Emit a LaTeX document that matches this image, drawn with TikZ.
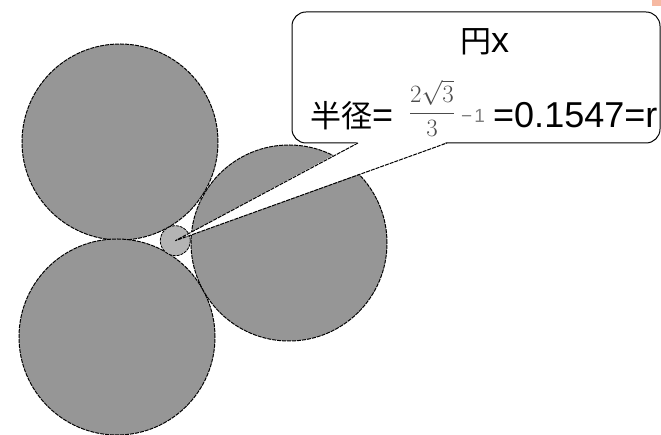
\documentclass[tikz,border=0pt]{standalone}
\usepackage{fontspec}
\setmainfont{Liberation Sans}
\newfontfamily\cjk{Noto Sans CJK JP}
\newcommand{\hanzi}{\fontsize{31}{36}\selectfont\cjk}
\definecolor{discgrey}{HTML}{969696}
\definecolor{holegrey}{HTML}{B4B4B4}
\definecolor{patch}{HTML}{F6B9A2}
\usetikzlibrary{calc}

\begin{document}
\begin{tikzpicture}[x=1pt, y=1pt,
  disc/.style={circle, draw=black, fill=discgrey, line width=1pt,
               dash pattern=on 4pt off 1pt, minimum size=196pt, inner sep=0pt},
  hole/.style={circle, draw=black, fill=holegrey, line width=0.8pt,
               dash pattern=on 3pt off 1pt, minimum size=30pt, inner sep=0pt},
  note/.style={draw=black, fill=white, rounded corners=14pt, line width=1pt,
               minimum width=368pt, minimum height=131pt, inner sep=0pt, outer sep=0pt},
  big/.style={font=\fontsize{36}{40}\selectfont, inner sep=0pt},
  frac/.style={font=\fontsize{24}{28}\selectfont, text=black!70, inner sep=0pt},
  small/.style={font=\fontsize{19}{22}\selectfont, text=black!50, inner sep=0pt},
  tail/.style={draw=black, line width=1pt, dash pattern=on 4pt off 1pt},
]
\useasboundingbox (0,0) rectangle (661,435);
\fill[patch] (652,429) rectangle (661,435);

\node[disc] (upper) at (120,293) {};
\node[disc] (lower) at (117,98) {};
\node[disc] (right) at (289,192) {};
\node[hole] (x) at (175.3,194.3) {};

\node[note] (callout) at (476,357.5) {};
\node[big, anchor=base] (name) at (484.5,382) {{\hanzi 円}x};
\node[big, anchor=base west] (lead) at (310,307) {{\hanzi 半径}=};
\node[frac, anchor=base] (ratio) at (432,316) {$\displaystyle\frac{2\sqrt{3}}{3}$};
\node[small, anchor=base west] (minus) at (461,312) {−\kern2pt1};
\node[big, anchor=base west] (value) at (493,307) {=0.1547=r};

\coordinate (pa) at ([xshift=66pt]callout.south west);
\coordinate (pb) at ([xshift=155pt]callout.south west);
\fill[white] ([yshift=1pt]pa) -- (x.center) -- ([yshift=1pt]pb) -- cycle;
\draw[tail] (pa) -- (x.center) -- (pb);
\end{tikzpicture}
\end{document}
